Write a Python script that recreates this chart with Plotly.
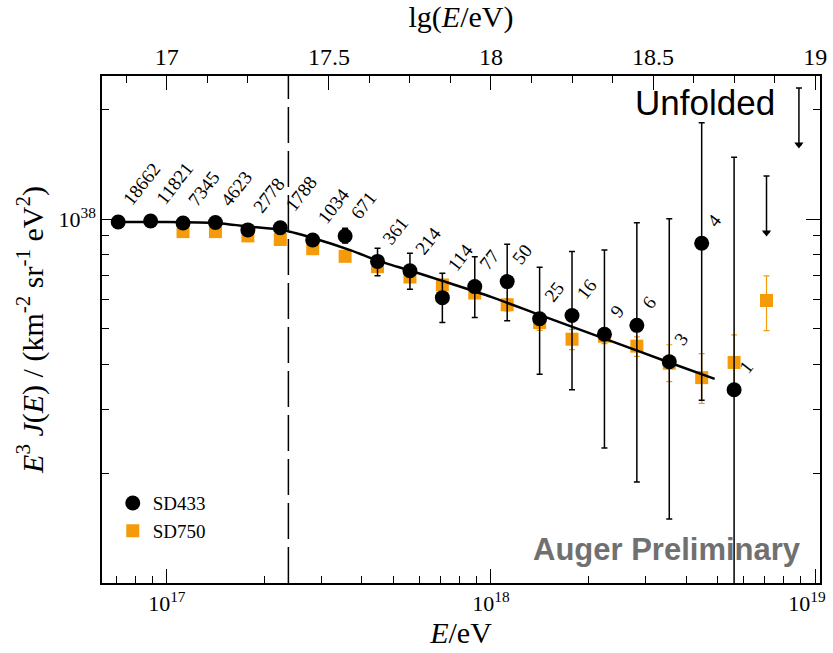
import numpy as np
import plotly.graph_objects as go

# ---------------- data ----------------
UNIT = 1e38  # flux values below are given in units of 1e38 km^-2 sr^-1 eV^2

# SD433 unfolded spectrum (bin centres in lg(E/eV))
lg_sd433 = [16.85, 16.95, 17.05, 17.15, 17.25, 17.35, 17.45, 17.55, 17.65, 17.75,
            17.85, 17.95, 18.05, 18.15, 18.25, 18.35, 18.45, 18.55, 18.65, 18.75]
events_sd433 = [18662, 11821, 7345, 4623, 2778, 1788, 1034, 671, 361, 214,
                114, 77, 50, 25, 16, 9, 6, 3, 4, 1]
flux_sd433 = [0.983, 0.989, 0.977, 0.980, 0.935, 0.948, 0.877, 0.900, 0.766, 0.722,
              0.609, 0.653, 0.674, 0.533, 0.544, 0.483, 0.511, 0.406, 0.859, 0.340]
flux_sd433_hi = [0.990, 0.996, 0.985, 0.990, 0.948, 0.965, 0.900, 0.945, 0.833, 0.807,
                 0.711, 0.789, 0.854, 0.738, 0.815, 0.823, 0.979, 1.004, 1.842, 1.480]
flux_sd433_lo = [0.976, 0.982, 0.969, 0.970, 0.922, 0.930, 0.855, 0.860, 0.700, 0.642,
                 0.520, 0.537, 0.526, 0.375, 0.340, 0.235, 0.1895, 0.150, 0.318, 0.05]

# SD433 upper limits
lg_sd433_limits = [18.85, 18.95]
flux_sd433_limits = [1.315, 2.295]

# SD750 spectrum
lg_sd750 = [17.05, 17.15, 17.25, 17.35, 17.45, 17.55, 17.65, 17.75, 17.85, 17.95,
            18.05, 18.15, 18.25, 18.35, 18.45, 18.55, 18.65, 18.75, 18.85]
flux_sd750 = [0.925, 0.925, 0.900, 0.880, 0.830, 0.791, 0.741, 0.694, 0.660, 0.627,
              0.582, 0.520, 0.468, 0.477, 0.448, 0.402, 0.367, 0.404, 0.598]
flux_sd750_hi = [0.933, 0.933, 0.910, 0.890, 0.842, 0.803, 0.756, 0.709, 0.678, 0.647,
                 0.604, 0.545, 0.498, 0.500, 0.475, 0.452, 0.427, 0.481, 0.699]
flux_sd750_lo = [0.917, 0.917, 0.890, 0.870, 0.818, 0.779, 0.726, 0.679, 0.642, 0.607,
                 0.560, 0.495, 0.438, 0.455, 0.420, 0.358, 0.312, 0.335, 0.494]

# fitted spectral function
lg_fit = [16.85, 17.00, 17.15, 17.26, 17.35, 17.45, 17.57, 17.65, 17.75, 17.85,
          18.00, 18.15, 18.35, 18.55, 18.69]
flux_fit = [0.983, 0.983, 0.977, 0.954, 0.937, 0.888, 0.820, 0.770, 0.723, 0.677,
            0.612, 0.546, 0.470, 0.404, 0.364]

# full-efficiency threshold of SD433
lg_threshold = 17.375

# ---------------- style ----------------
BLACK = "#000000"
ORANGE = "#F59B0A"
SERIF = "Times New Roman, Liberation Serif, serif"
SANS = "Helvetica, Liberation Sans, Arial, sans-serif"
ARROW_DROP = 10 ** 0.155   # length of the upper-limit arrows (ratio)
X_RANGE = [16.8, 19.015]
Y_RANGE = [37.0, 38.394]


def scaled(vals):
    return [v * UNIT for v in vals]


E_sd433 = [10 ** v for v in lg_sd433]
E_sd750 = [10 ** v for v in lg_sd750]
E_fit = [10 ** v for v in lg_fit]

fig = go.Figure()

# SD750 squares
fig.add_trace(go.Scatter(
    x=E_sd750, y=scaled(flux_sd750), mode="markers", name="SD750",
    marker=dict(symbol="square", size=13, color=ORANGE),
    error_y=dict(type="data", symmetric=False,
                 array=[(h - v) * UNIT for h, v in zip(flux_sd750_hi, flux_sd750)],
                 arrayminus=[(v - l) * UNIT for l, v in zip(flux_sd750_lo, flux_sd750)],
                 color=ORANGE, thickness=1.2, width=3),
    legendrank=2,
))

# fitted function
fig.add_trace(go.Scatter(
    x=E_fit, y=scaled(flux_fit), mode="lines", showlegend=False,
    line=dict(color=BLACK, width=2.5, shape="spline", smoothing=0.6),
))

# SD433 circles
fig.add_trace(go.Scatter(
    x=E_sd433, y=scaled(flux_sd433), mode="markers", name="SD433",
    marker=dict(symbol="circle", size=15, color=BLACK),
    error_y=dict(type="data", symmetric=False,
                 array=[(h - v) * UNIT for h, v in zip(flux_sd433_hi, flux_sd433)],
                 arrayminus=[(v - l) * UNIT for l, v in zip(flux_sd433_lo, flux_sd433)],
                 color=BLACK, thickness=1.5, width=3),
    legendrank=1,
))

# SD433 upper limits (drawn against the lg(E/eV) axis)
fig.add_trace(go.Scatter(
    x=lg_sd433_limits, y=scaled(flux_sd433_limits), xaxis="x2", mode="markers",
    showlegend=False, marker=dict(size=1, opacity=0),
    error_y=dict(type="data", symmetric=False,
                 array=[0 for _ in flux_sd433_limits],
                 arrayminus=[(v - v / ARROW_DROP) * UNIT for v in flux_sd433_limits],
                 color=BLACK, thickness=1.5, width=3),
))
fig.add_trace(go.Scatter(
    x=lg_sd433_limits, y=[v / ARROW_DROP * UNIT for v in flux_sd433_limits],
    xaxis="x2", mode="markers", showlegend=False,
    marker=dict(symbol="triangle-down", size=8, color=BLACK),
))

# event counts above the SD433 points
label_yshift = {114: 20}
annotations = []
for lg, f, n in zip(lg_sd433, flux_sd433, events_sd433):
    annotations.append(dict(
        x=lg, y=np.log10(f * UNIT), xref="x", yref="y", text=str(n),
        showarrow=False, textangle=-52, xanchor="left", yanchor="bottom",
        xshift=-2, yshift=label_yshift.get(n, 10),
        font=dict(family=SERIF, size=19, color=BLACK),
    ))

annotations.append(dict(
    x=0.84, y=0.947, xref="paper", yref="paper", text="Unfolded",
    showarrow=False, xanchor="center", yanchor="middle",
    font=dict(family=SANS, size=35, color=BLACK),
))
annotations.append(dict(
    x=0.976, y=0.067, xref="paper", yref="paper", text="<b>Auger Preliminary</b>",
    showarrow=False, xanchor="right", yanchor="middle",
    font=dict(family=SANS, size=31, color="#707070"),
))

shapes = [dict(
    type="line", xref="x2", yref="paper", x0=lg_threshold, x1=lg_threshold,
    y0=0, y1=1, line=dict(color=BLACK, width=1.5, dash="36px,8px"), layer="below",
)]

bottom_minor = [m * 10 ** d for d in (16, 17, 18) for m in range(2, 10)
                if 10 ** X_RANGE[0] <= m * 10 ** d <= 10 ** X_RANGE[1]]
left_minor = [m * 1e37 for m in range(2, 10)] + [2e38]
top_minor = list(np.arange(16.875, 19.01, 0.125))

axis_common = dict(showline=True, linecolor=BLACK, linewidth=1.5, showgrid=False,
                   zeroline=False, ticks="inside", tickcolor=BLACK, tickwidth=1.2,
                   ticklen=14, automargin=False, ticklabeloverflow="allow")

fig.update_layout(
    width=833, height=653,
    margin=dict(l=102, r=13, t=76, b=70),
    paper_bgcolor="white", plot_bgcolor="white",
    font=dict(family=SERIF, color=BLACK),
    xaxis=dict(
        type="log", range=X_RANGE, **axis_common,
        tickvals=[1e17, 1e18, 1e19],
        ticktext=["10<sup>17</sup>", "10<sup>18</sup>",
                  "10<sup>19</sup>&nbsp;&nbsp;&nbsp;"],
        tickfont=dict(family=SERIF, size=22),
        minor=dict(tickvals=bottom_minor, ticks="inside", ticklen=7,
                   tickcolor=BLACK, tickwidth=1.2, showgrid=False),
        title=dict(text="<i>E</i>/eV", font=dict(family=SERIF, size=30), standoff=4),
    ),
    xaxis2=dict(
        overlaying="x", side="top", anchor="y", range=X_RANGE, **axis_common,
        tickvals=[17, 17.5, 18, 18.5, 19], ticktext=["17", "17.5", "18", "18.5", "19"],
        tickfont=dict(family=SERIF, size=24),
        minor=dict(tickvals=top_minor, ticks="inside", ticklen=7,
                   tickcolor=BLACK, tickwidth=1.2, showgrid=False),
        title=dict(text="lg(<i>E</i>/eV)", font=dict(family=SERIF, size=30), standoff=8),
    ),
    yaxis=dict(
        type="log", range=Y_RANGE, **axis_common, mirror="ticks",
        tickvals=[1e38], ticktext=["10<sup>38</sup>"],
        tickfont=dict(family=SERIF, size=22),
        minor=dict(tickvals=left_minor, ticks="inside", ticklen=7,
                   tickcolor=BLACK, tickwidth=1.2, showgrid=False),
        title=dict(text="<i>E</i><sup>3</sup> <i>J</i>(<i>E</i>) / (km<sup>-2</sup> sr<sup>-1</sup> eV<sup>2</sup>)",
                   font=dict(family=SERIF, size=30), standoff=6),
    ),
    legend=dict(x=0.015, y=0.195, xanchor="left", yanchor="top",
                bgcolor="rgba(0,0,0,0)", font=dict(family=SERIF, size=19),
                tracegroupgap=0, itemsizing="trace"),
    annotations=annotations,
    shapes=shapes,
)

fig.write_html("out.html")
